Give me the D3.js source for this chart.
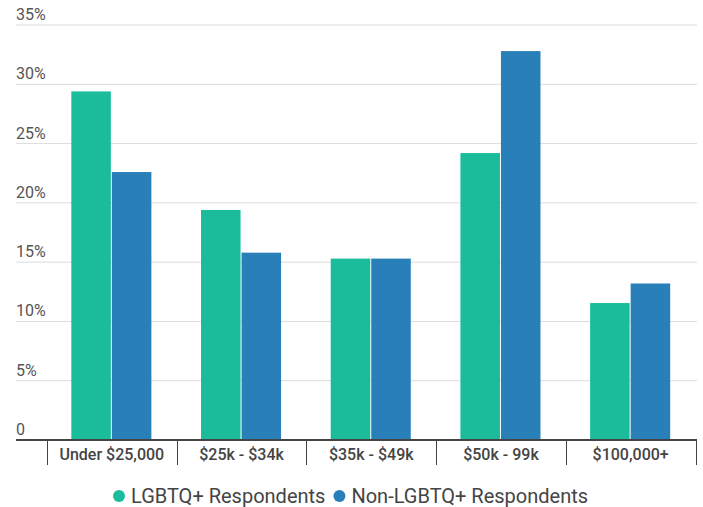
<!DOCTYPE html>
<head>
    <meta charset="utf-8">
    <script src="https://d3js.org/d3.v7.min.js"></script>
    <style>
      body { margin: 0; background: #fff; }
      text { font-family: Roboto, "Noto Sans", sans-serif; }
    </style>
</head>
<body>
    <script>
        var categories = ["Under $25,000", "$25k - $34k", "$35k - $49k", "$50k - 99k", "$100,000+"]
        var seriesNames = ["LGBTQ+ Respondents", "Non-LGBTQ+ Respondents"]
        var lgbtqValues = [29.4, 19.4, 15.3, 24.2, 11.55]
        var nonLgbtqValues = [22.6, 15.8, 15.3, 32.8, 13.2]
        var yTicks = [0, 5, 10, 15, 20, 25, 30, 35]
        var colors = ["#1abc9c", "#2980b9"]

        var svg_w = 703, svg_h = 507
        var svg = d3.select("body").append("svg")
          .attr("width", svg_w)
          .attr("height", svg_h)

        var data = categories.map(function(c, i){
          return {cat: c, vals: [lgbtqValues[i], nonLgbtqValues[i]]}
        })

        var gridLeft = 16, gridRight = 697
        var x0 = d3.scaleBand().domain(categories).range([47, 695.5])
        var x1 = d3.scaleBand().domain([0, 1]).range([0, x0.bandwidth()]).paddingOuter(0.6)
        var y = d3.scaleLinear().domain([0, 35]).range([440, 25])

        // gridlines + labels
        var grid = svg.append("g")
        grid.selectAll("line").data(yTicks.filter(function(d){return d > 0})).enter()
          .append("line")
          .attr("x1", gridLeft).attr("x2", gridRight)
          .attr("y1", function(d){return y(d)}).attr("y2", function(d){return y(d)})
          .attr("stroke", "#dcdcdc").attr("stroke-width", 1)
        grid.selectAll("text").data(yTicks).enter()
          .append("text")
          .attr("x", gridLeft)
          .attr("y", function(d){return y(d) - 5})
          .attr("font-size", 16)
          .attr("fill", "#555")
          .text(function(d){return d === 0 ? "0" : d + "%"})

        // bars
        var groups = svg.selectAll(".cat").data(data).enter()
          .append("g")
          .attr("transform", function(d){return "translate(" + x0(d.cat) + ",0)"})
        groups.selectAll("rect").data(function(d){return d.vals}).enter()
          .append("rect")
          .attr("x", function(d, i){return x1(i)})
          .attr("width", x1.bandwidth() - 1)
          .attr("y", function(d){return y(d)})
          .attr("height", function(d){return y(0) - y(d)})
          .attr("fill", function(d, i){return colors[i]})

        // x axis
        svg.append("line")
          .attr("x1", gridLeft).attr("x2", gridRight)
          .attr("y1", 440).attr("y2", 440)
          .attr("stroke", "#444").attr("stroke-width", 2)
        var tickXs = categories.map(function(c){return x0(c)}).concat([x0(categories[categories.length-1]) + x0.bandwidth()])
        svg.selectAll(".xtick").data(tickXs).enter()
          .append("line")
          .attr("x1", function(d){return Math.round(d) + 0.5}).attr("x2", function(d){return Math.round(d) + 0.5})
          .attr("y1", 440).attr("y2", 465)
          .attr("stroke", "#444").attr("stroke-width", 1)
        svg.selectAll(".xlabel").data(categories).enter()
          .append("text")
          .attr("x", function(d){return x0(d) + x0.bandwidth()/2})
          .attr("y", 460)
          .attr("text-anchor", "middle")
          .attr("font-size", 16)
          .attr("font-weight", 500)
          .attr("fill", "#444")
          .text(function(d){return d})

        // legend
        var legend = svg.append("g").attr("transform", "translate(0,496)")
        var lx = 113
        seriesNames.forEach(function(name, i){
          legend.append("circle").attr("cx", lx + 6).attr("cy", 0).attr("r", 6).attr("fill", colors[i])
          var t = legend.append("text")
            .attr("x", lx + 18).attr("y", 7)
            .attr("font-size", 20)
            .attr("fill", "#444")
            .text(name)
          lx += 18 + t.node().getComputedTextLength() + 8
        })
    </script>
</body>
